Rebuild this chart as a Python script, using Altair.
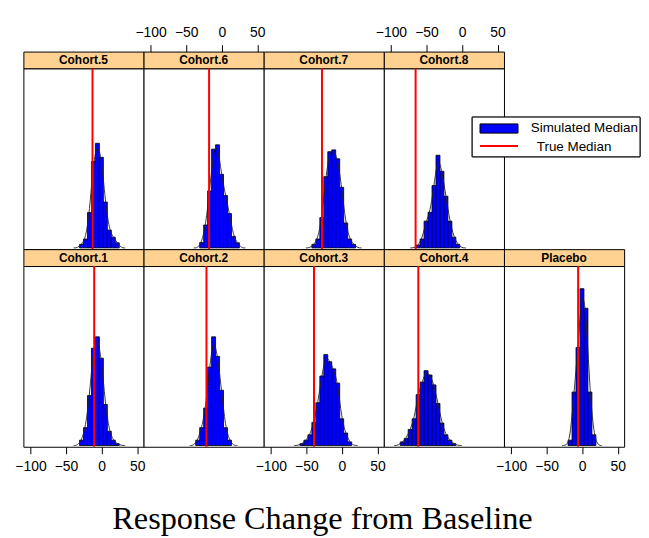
import altair as alt
import pandas as pd

# ---------------- data ----------------
panel_names = ["Cohort.5", "Cohort.6", "Cohort.7", "Cohort.8",
               "Cohort.1", "Cohort.2", "Cohort.3", "Cohort.4", "Placebo"]

bin_origin = -103.7   # left edge of bin 0
bin_width = 5.59

# first bin index, density heights (% per unit)
hist_start = {
    "Cohort.5": 13, "Cohort.6": 13, "Cohort.7": 11, "Cohort.8": 7,
    "Cohort.1": 13, "Cohort.2": 12, "Cohort.3": 8, "Cohort.4": 3, "Placebo": 15,
}
hist_heights = {
    "Cohort.5": [0.14, 0.35, 1.39, 3.40, 4.11, 3.56, 1.80, 0.70, 0.42, 0.20],
    "Cohort.6": [0.21, 0.90, 2.24, 3.88, 4.05, 2.89, 2.06, 1.35, 0.45, 0.20],
    "Cohort.7": [0.14, 0.35, 1.19, 2.80, 3.78, 3.85, 3.50, 2.38, 0.98, 0.35, 0.14],
    "Cohort.8": [0.11, 0.35, 1.05, 1.40, 2.45, 3.64, 3.01, 2.03, 1.05, 0.42, 0.14],
    "Cohort.1": [0.21, 0.70, 1.96, 3.82, 4.27, 3.43, 1.61, 0.56, 0.21, 0.07],
    "Cohort.2": [0.21, 0.70, 1.47, 3.08, 4.27, 3.50, 2.17, 0.70, 0.21],
    "Cohort.3": [0.07, 0.21, 0.42, 0.91, 1.68, 2.73, 3.57, 3.29, 3.01, 2.45, 1.05, 0.49, 0.14],
    "Cohort.4": [0.14, 0.28, 0.63, 1.05, 2.00, 2.49, 2.94, 2.77, 2.38, 1.65, 0.88, 0.42, 0.21, 0.07],
    "Placebo": [0.21, 2.10, 3.85, 6.16, 5.39, 2.10, 0.42],
}
true_median = {
    "Cohort.5": -12.8, "Cohort.6": -17.8, "Cohort.7": -28.0, "Cohort.8": -65.3,
    "Cohort.1": -10.4, "Cohort.2": -21.5, "Cohort.3": -39.2, "Cohort.4": -61.5,
    "Placebo": -5.7,
}
tick_values = [-100, -50, 0, 50]
legend_labels = ["Simulated Median", " True Median"]
caption = "Response Change from Baseline"

# ---------------- layout / style ----------------
XMIN, XMAX = -110, 59
YMIN, YMAX = -0.05, 7.05
W, PH, SH = 121, 182, 17
BLUE, RED, STRIP = "#0000FF", "#FF0000", "#FFD291"
SANS = "Liberation Sans"

xscale = alt.Scale(domain=[XMIN, XMAX], nice=False, zero=False)
yscale = alt.Scale(domain=[YMIN, YMAX], nice=False, zero=False)


def axis(orient):
    return alt.Axis(orient=orient, values=tick_values, grid=False, domain=False,
                    ticks=True, tickColor="black", tickSize=7, tickWidth=1,
                    labelFont=SANS, labelFontSize=14, labelColor="black",
                    labelPadding=5 if orient == "top" else 6,
                    title=None, labelFlush=False)


def hist_df(name):
    rows = []
    for i, h in enumerate(hist_heights[name]):
        lo = bin_origin + (hist_start[name] + i) * bin_width
        rows.append({"lo": lo, "hi": lo + bin_width, "mid": lo + bin_width / 2,
                     "h": h, "base": 0.0})
    return pd.DataFrame(rows)


def curve_df(name):
    d = hist_df(name)[["mid", "h"]]
    first, last = d["mid"].iloc[0], d["mid"].iloc[-1]
    pad = pd.DataFrame({"mid": [first - 2 * bin_width, first - bin_width,
                                last + bin_width, last + 2 * bin_width],
                        "h": [0.0, 0.0, 0.0, 0.0]})
    return pd.concat([d, pad]).sort_values("mid")


def panel(name, bottom_axis):
    ax = axis("bottom") if bottom_axis else None
    bars = alt.Chart(hist_df(name)).mark_rect(
        fill=BLUE, stroke="black", strokeWidth=0.8).encode(
        x=alt.X("lo:Q", scale=xscale, axis=ax),
        x2="hi:Q",
        y=alt.Y("h:Q", scale=yscale, axis=None),
        y2="base:Q")
    curve = alt.Chart(curve_df(name)).mark_line(
        color="#222222", strokeWidth=0.9, interpolate="basis").encode(
        x=alt.X("mid:Q", scale=xscale, axis=ax),
        y=alt.Y("h:Q", scale=yscale, axis=None))
    rule = alt.Chart(pd.DataFrame({"m": [true_median[name]]})).mark_rule(
        color=RED, strokeWidth=2).encode(
        x=alt.X("m:Q", scale=xscale, axis=ax))
    return alt.layer(bars, curve, rule).properties(
        width=W, height=PH,
        view=alt.ViewBackground(fill="white", stroke="black", strokeWidth=1))


def strip(name, top_axis):
    ax = axis("top") if top_axis else None
    return alt.Chart(pd.DataFrame({"label": [name], "c": [(XMIN + XMAX) / 2]})).mark_text(
        font=SANS, fontSize=12, fontWeight="bold", color="black", baseline="middle").encode(
        x=alt.X("c:Q", scale=xscale, axis=ax),
        y=alt.value(SH / 2 + 0.5),
        text="label:N").properties(
        width=W, height=SH,
        view=alt.ViewBackground(fill=STRIP, stroke="black", strokeWidth=1))


empty_cell = alt.Chart(pd.DataFrame({"label": [""]})).mark_text().encode(
    text="label:N", x=alt.value(0), y=alt.value(0)).properties(
    width=W, height=SH, view=alt.ViewBackground(stroke=None, fill=None))

leg_df = pd.DataFrame({"label": legend_labels})
legend_box = alt.Chart(leg_df).mark_rect(fill="white", stroke="black", strokeWidth=1).encode(
    x=alt.value(-32), x2=alt.value(137), y=alt.value(49), y2=alt.value(89))
legend_swatch = alt.Chart(leg_df).mark_rect(fill=BLUE, stroke="black", strokeWidth=0.8).encode(
    x=alt.value(-24), x2=alt.value(14), y=alt.value(56), y2=alt.value(65))
legend_line = alt.Chart(leg_df).mark_rule(color=RED, strokeWidth=2).encode(
    x=alt.value(-24), x2=alt.value(14), y=alt.value(78))
legend_text1 = alt.Chart(leg_df.iloc[[0]]).mark_text(
    font=SANS, fontSize=13.5, align="left", baseline="middle", color="black").encode(
    x=alt.value(27), y=alt.value(60.5), text="label:N")
legend_text2 = alt.Chart(leg_df.iloc[[1]]).mark_text(
    font=SANS, fontSize=13.5, align="left", baseline="middle", color="black").encode(
    x=alt.value(33), y=alt.value(79), text="label:N")
legend = alt.layer(legend_box, legend_swatch, legend_line, legend_text1, legend_text2).properties(
    width=W, height=PH, view=alt.ViewBackground(stroke=None, fill=None))

cells = [
    strip("Cohort.5", False), strip("Cohort.6", True), strip("Cohort.7", False),
    strip("Cohort.8", True), empty_cell,
    panel("Cohort.5", False), panel("Cohort.6", False), panel("Cohort.7", False),
    panel("Cohort.8", False), legend,
    strip("Cohort.1", False), strip("Cohort.2", False), strip("Cohort.3", False),
    strip("Cohort.4", False), strip("Placebo", False),
    panel("Cohort.1", True), panel("Cohort.2", False), panel("Cohort.3", True),
    panel("Cohort.4", False), panel("Placebo", True),
]

chart = alt.concat(*cells, columns=5, spacing=0, bounds="flush").resolve_scale(
    x="independent", y="independent").properties(
    title=alt.TitleParams(caption, orient="bottom", anchor="middle", font="Liberation Serif",
                          fontSize=32.5, fontWeight="normal", color="black", offset=29, dx=-5),
    padding={"left": 5.5, "top": 15, "right": 0, "bottom": 0},
    background="white",
).configure_view(strokeWidth=0)

chart.save("out.html", embed_options={"renderer": "svg", "actions": False})
